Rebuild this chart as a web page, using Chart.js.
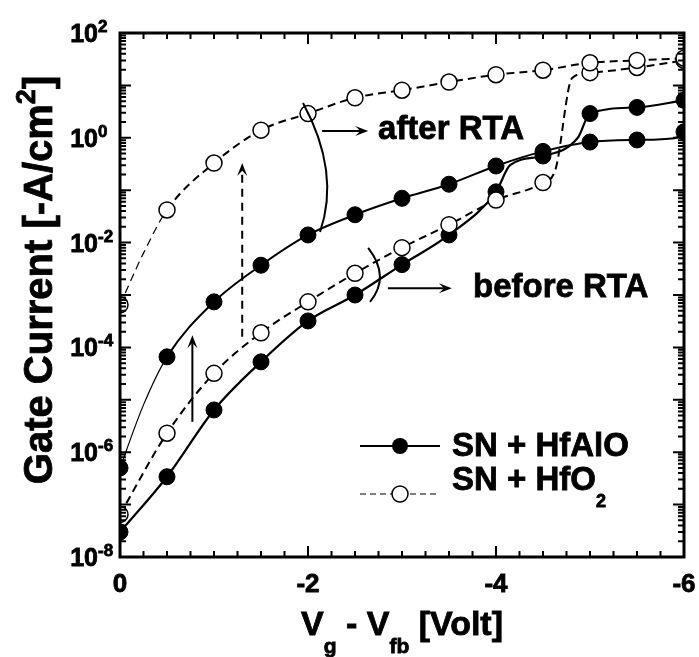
<!DOCTYPE html>
<html>
<head>
<meta charset="utf-8">
<script src="https://cdn.jsdelivr.net/npm/chart.js@4.4.0/dist/chart.umd.min.js"></script>
<style>
  html, body { margin: 0; padding: 0; background: #fff; }
</style>
</head>
<body>
<canvas id="gateChart" width="699" height="657"></canvas>
<script>
// SN + HfO2, after RTA (open circles, dashed)
const vHfO2After = [0, -0.25, -0.5, -1, -1.5, -2, -2.5, -3, -3.5, -4, -4.5, -5, -5.5, -6];
const jHfO2After = [6.5e-4, 6.3e-3, 0.042, 0.33, 1.4, 2.9, 5.8, 8.1, 11.6, 16, 19.5, 27, 30, 33];

// SN + HfO2, before RTA (open circles, dashed)
const vHfO2Before = [0, -0.5, -1, -1.5, -2, -2.5, -3, -3.5, -4, -4.5, -4.63, -4.81, -5, -5.5, -6];
const jHfO2Before = [6.5e-8, 2.3e-6, 3.2e-5, 1.9e-4, 7.4e-4, 2.6e-3, 8e-3, 0.022, 0.065, 0.14, 0.24, 13.8, 17.5, 22, 30];

// SN + HfAlO, after RTA (filled circles, solid)
const vHfAlOAfter = [0, -0.25, -0.5, -1, -1.5, -2, -2.5, -3, -3.5, -4, -4.5, -5, -5.5, -5.9, -6];
const jHfAlOAfter = [5e-7, 8e-6, 6.6e-5, 7.4e-4, 3.7e-3, 0.014, 0.034, 0.07, 0.13, 0.29, 0.55, 0.83, 0.91, 0.98, 1.3];

// SN + HfAlO, before RTA (filled circles, solid)
const vHfAlOBefore = [0, -0.5, -1, -1.5, -2, -2.5, -3, -3.5, -4, -4.15, -4.5, -4.87, -5, -5.5, -6];
const jHfAlOBefore = [3e-8, 3.4e-7, 6.4e-6, 5.3e-5, 3.2e-4, 1.0e-3, 3.8e-3, 0.014, 0.093, 0.3, 0.45, 1.0, 2.9, 3.8, 5.2];

// axis ticks
const yLabelExps = [2, 0, -2, -4, -6, -8];
const xLabelValues = [0, -2, -4, -6];
const legendNames = ["SN + HfAlO", "SN + HfO"];

// annotations, in data coordinates [volt, current]
const arcAfter = [[-1.947, 4.6], [-2.346, 0.218], [-2.128, 0.0159]];
const arrowAfter = [[-2.15, 1.35], [-2.64, 1.35]];
const textAfter = [-2.745, 0.95];
const arcBefore = [[-2.64, 7.9e-3], [-2.88, 2.2e-3], [-2.66, 7.4e-4]];
const arrowBefore = [[-2.85, 1.35e-3], [-3.53, 1.35e-3]];
const textBefore = [-3.755, 9.1e-4];
const arrowDashed = [[-1.30, 1.6e-4], [-1.30, 0.33]];
const arrowSolid = [[-0.77, 3.8e-6], [-0.77, 1.7e-4]];

const FAMILY = '"Liberation Sans", Arial, Helvetica, sans-serif';
function font(size) {
  return `bold ${size}px ${FAMILY}`;
}

function toPoints(xs, ys) {
  return xs.map((x, i) => ({ x, y: ys[i] }));
}

// markers only on the 0.5 V grid, other points just shape the line
function markerRadius(xs) {
  return xs.map((x) => (Number.isInteger(x * 2) ? 8 : 0));
}

function thinStart(ctx) {
  return ctx.p1.parsed.x > -0.6 ? 1.2 : 2;
}

// the original lettering is heavier than plain bold, so give it a thin outline
function heavyText(ctx, text, x, y) {
  ctx.fillText(text, x, y);
  ctx.save();
  ctx.lineWidth = 0.8;
  ctx.setLineDash([]);
  ctx.strokeText(text, x, y);
  ctx.restore();
}

function drawParts(ctx, parts, x, y, align) {
  let total = 0;
  parts.forEach((p) => {
    ctx.font = font(p[1]);
    total += ctx.measureText(p[0]).width;
  });
  let cx = x;
  if (align === "center") cx = x - total / 2;
  if (align === "right") cx = x - total;
  ctx.textAlign = "left";
  ctx.textBaseline = "alphabetic";
  parts.forEach((p) => {
    ctx.font = font(p[1]);
    heavyText(ctx, p[0], cx, y + (p[2] || 0));
    cx += ctx.measureText(p[0]).width;
  });
}

function drawArrow(ctx, x1, y1, x2, y2, dash) {
  const ang = Math.atan2(y2 - y1, x2 - x1);
  const head = 13;
  const half = 5;
  const c = Math.cos(ang);
  const s = Math.sin(ang);
  ctx.save();
  ctx.lineWidth = 2;
  ctx.setLineDash(dash || []);
  ctx.beginPath();
  ctx.moveTo(x1, y1);
  ctx.lineTo(x2 - c * head * 0.6, y2 - s * head * 0.6);
  ctx.stroke();
  ctx.setLineDash([]);
  ctx.beginPath();
  ctx.moveTo(x2, y2);
  ctx.lineTo(x2 - head * c + half * s, y2 - head * s - half * c);
  ctx.lineTo(x2 - head * 0.6 * c, y2 - head * 0.6 * s);
  ctx.lineTo(x2 - head * c - half * s, y2 - head * s + half * c);
  ctx.closePath();
  ctx.fill();
  ctx.restore();
}

const framePlugin = {
  id: "frame",
  afterDraw(chart) {
    const ctx = chart.ctx;
    const area = chart.chartArea;
    const xs = chart.scales.x;
    const ys = chart.scales.y;
    const px = (v) => xs.getPixelForValue(v);
    const py = (v) => ys.getPixelForValue(v);

    ctx.save();
    ctx.fillStyle = "#000";
    ctx.strokeStyle = "#000";

    // y ticks, decades long, 2..9 short, both sides, pointing in
    ctx.lineWidth = 2;
    ctx.beginPath();
    for (let e = -8; e <= 2; e++) {
      for (let m = 1; m <= 9; m++) {
        if (e === 2 && m > 1) break;
        const y = py(m * Math.pow(10, e));
        const len = m === 1 ? 11 : 6;
        ctx.moveTo(area.left, y);
        ctx.lineTo(area.left + len, y);
        ctx.moveTo(area.right, y);
        ctx.lineTo(area.right - len, y);
      }
    }
    // x ticks every 0.25 V, long ones every 2 V
    for (let k = 0; k <= 24; k++) {
      const x = px(-k * 0.25);
      const len = k % 8 === 0 ? 11 : 6;
      ctx.moveTo(x, area.bottom);
      ctx.lineTo(x, area.bottom - len);
      ctx.moveTo(x, area.top);
      ctx.lineTo(x, area.top + len);
    }
    ctx.stroke();

    ctx.lineWidth = 3;
    ctx.strokeRect(area.left, area.top, area.right - area.left, area.bottom - area.top);

    // tick labels
    yLabelExps.forEach((e) => {
      const y = py(Math.pow(10, e));
      ctx.textBaseline = "alphabetic";
      ctx.font = font(25);
      ctx.textAlign = "right";
      heavyText(ctx, "10", 98, y + 9);
      ctx.textAlign = "left";
      ctx.font = font(17);
      heavyText(ctx, String(e), 98, y - 1);
    });
    xLabelValues.forEach((v) => {
      ctx.font = font(26);
      ctx.textAlign = "center";
      ctx.textBaseline = "alphabetic";
      heavyText(ctx, String(v), px(v), 592);
    });

    // axis titles
    drawParts(
      ctx,
      [["V", 34], ["g", 21, 18], [" - V", 34], ["fb", 21, 18], [" [Volt]", 34]],
      (area.left + area.right) / 2,
      635,
      "center",
    );
    ctx.save();
    ctx.translate(52, 280);
    ctx.rotate(-Math.PI / 2);
    drawParts(ctx, [["Gate Current [-A/cm", 40], ["2", 27, -17], ["]", 40]], 0, 0, "center");
    ctx.restore();

    // annotations
    ctx.lineWidth = 2;
    ctx.beginPath();
    ctx.moveTo(px(arcAfter[0][0]), py(arcAfter[0][1]));
    ctx.quadraticCurveTo(px(arcAfter[1][0]), py(arcAfter[1][1]), px(arcAfter[2][0]), py(arcAfter[2][1]));
    ctx.stroke();
    ctx.beginPath();
    ctx.moveTo(px(arcBefore[0][0]), py(arcBefore[0][1]));
    ctx.quadraticCurveTo(px(arcBefore[1][0]), py(arcBefore[1][1]), px(arcBefore[2][0]), py(arcBefore[2][1]));
    ctx.stroke();

    drawArrow(ctx, px(arrowAfter[0][0]), py(arrowAfter[0][1]), px(arrowAfter[1][0]), py(arrowAfter[1][1]));
    drawArrow(ctx, px(arrowBefore[0][0]), py(arrowBefore[0][1]), px(arrowBefore[1][0]), py(arrowBefore[1][1]));
    drawArrow(ctx, px(arrowDashed[0][0]), py(arrowDashed[0][1]), px(arrowDashed[1][0]), py(arrowDashed[1][1]), [8, 6]);
    drawArrow(ctx, px(arrowSolid[0][0]), py(arrowSolid[0][1]), px(arrowSolid[1][0]), py(arrowSolid[1][1]));

    drawParts(ctx, [["after RTA", 33]], px(textAfter[0]), py(textAfter[1]), "left");
    drawParts(ctx, [["before RTA", 33]], px(textBefore[0]), py(textBefore[1]), "left");

    // legend
    const rows = [446, 494];
    ctx.lineWidth = 2;
    ctx.beginPath();
    ctx.moveTo(360, rows[0]);
    ctx.lineTo(440, rows[0]);
    ctx.stroke();
    ctx.beginPath();
    ctx.arc(400, rows[0], 8, 0, Math.PI * 2);
    ctx.fill();

    ctx.lineWidth = 1.2;
    ctx.setLineDash([6, 4]);
    ctx.beginPath();
    ctx.moveTo(360, rows[1]);
    ctx.lineTo(440, rows[1]);
    ctx.stroke();
    ctx.setLineDash([]);
    ctx.beginPath();
    ctx.arc(400, rows[1], 8, 0, Math.PI * 2);
    ctx.fillStyle = "#fff";
    ctx.fill();
    ctx.lineWidth = 1.5;
    ctx.stroke();
    ctx.fillStyle = "#000";

    drawParts(ctx, [[legendNames[0], 33]], 452, rows[0] + 10, "left");
    drawParts(ctx, [[legendNames[1], 33], ["2", 18, 17]], 452, rows[1] - 4, "left");

    ctx.restore();
  },
};

const common = {
  borderColor: "#000",
  pointBorderColor: "#000",
  pointHoverRadius: 0,
  cubicInterpolationMode: "monotone",
  fill: false,
};

new Chart(document.getElementById("gateChart"), {
  type: "line",
  data: {
    datasets: [
      {
        ...common,
        label: "SN + HfO2 after RTA",
        data: toPoints(vHfO2After, jHfO2After),
        borderWidth: 2,
        borderDash: [8, 5],
        pointRadius: markerRadius(vHfO2After),
        pointBackgroundColor: "#fff",
        pointBorderWidth: 1.5,
        segment: { borderWidth: thinStart },
      },
      {
        ...common,
        label: "SN + HfO2 before RTA",
        data: toPoints(vHfO2Before, jHfO2Before),
        borderWidth: 2,
        borderDash: [8, 5],
        pointRadius: markerRadius(vHfO2Before),
        pointBackgroundColor: "#fff",
        pointBorderWidth: 1.5,
      },
      {
        ...common,
        label: "SN + HfAlO after RTA",
        data: toPoints(vHfAlOAfter, jHfAlOAfter),
        borderWidth: 2,
        pointRadius: markerRadius(vHfAlOAfter),
        pointBackgroundColor: "#000",
        pointBorderWidth: 1,
        segment: { borderWidth: thinStart },
      },
      {
        ...common,
        label: "SN + HfAlO before RTA",
        data: toPoints(vHfAlOBefore, jHfAlOBefore),
        borderWidth: 2.2,
        pointRadius: markerRadius(vHfAlOBefore),
        pointBackgroundColor: "#000",
        pointBorderWidth: 1,
      },
    ],
  },
  options: {
    responsive: false,
    animation: false,
    devicePixelRatio: 1,
    layout: { padding: { left: 120, right: 15, top: 33, bottom: 100 } },
    plugins: { legend: { display: false }, tooltip: { enabled: false } },
    scales: {
      x: { type: "linear", min: -6, max: 0, reverse: true, display: false },
      y: { type: "logarithmic", min: 1e-8, max: 1e2, display: false },
    },
  },
  plugins: [framePlugin],
});
</script>
</body>
</html>
